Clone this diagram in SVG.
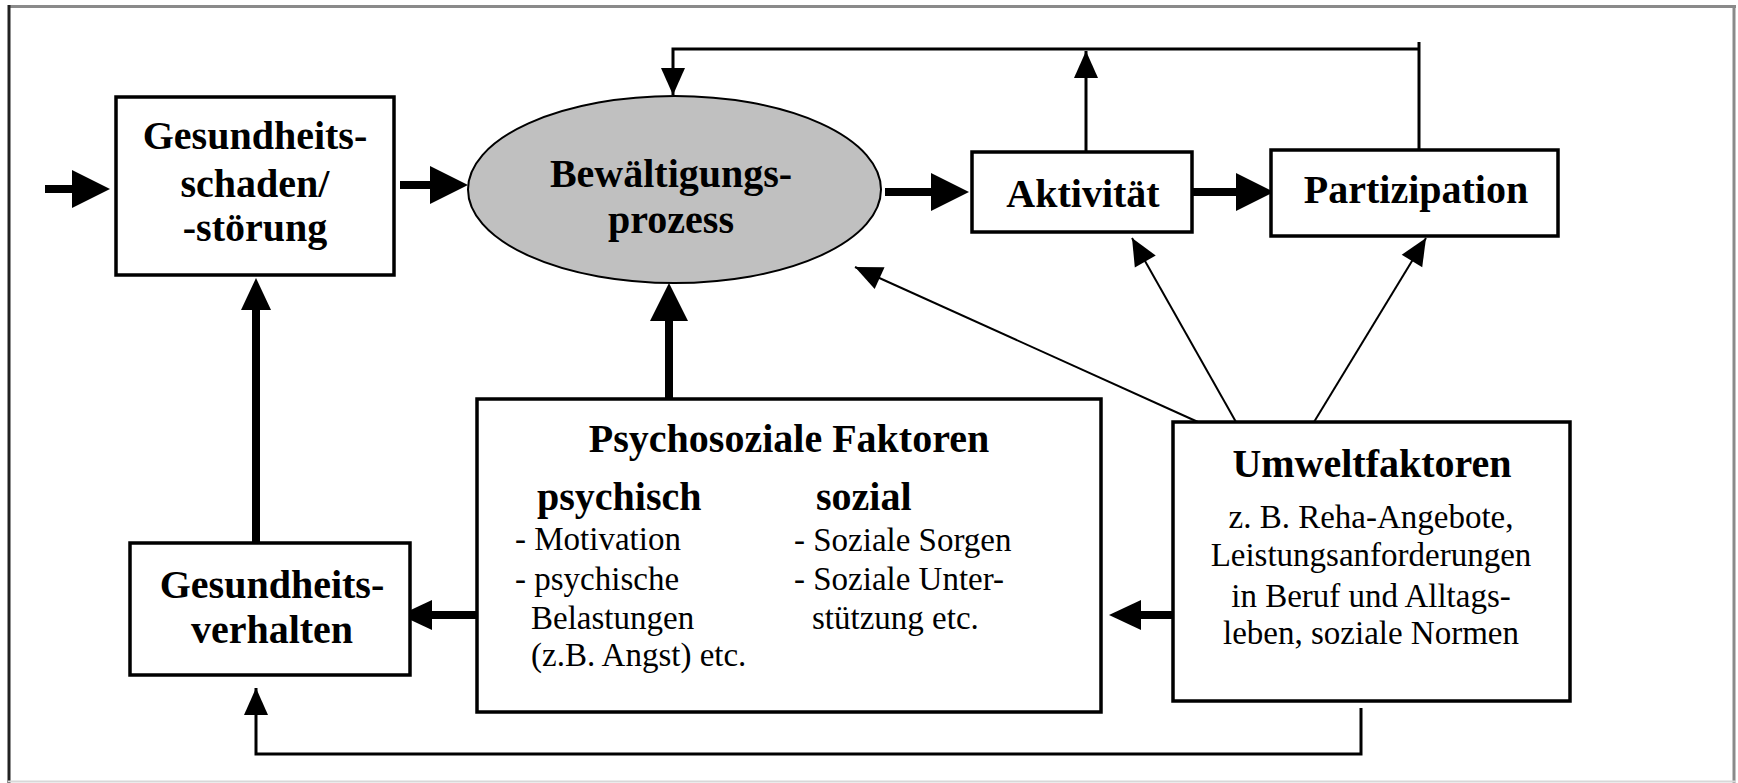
<svg xmlns="http://www.w3.org/2000/svg" width="1738" height="783" viewBox="0 0 1738 783">
<style>
.box{fill:#fff;stroke:#000;stroke-width:3.5}
.ell{fill:#c0c0c0;stroke:#000;stroke-width:2}
.thick{fill:none;stroke:#000;stroke-width:8}
.thin{fill:none;stroke:#000;stroke-width:3}
.diag{fill:none;stroke:#000;stroke-width:2}
.b{font-family:"Liberation Serif","Times New Roman",serif;font-weight:bold;font-size:40px;fill:#000}
.r{font-family:"Liberation Serif","Times New Roman",serif;font-size:33px;fill:#000}
.m{text-anchor:middle}
</style>
<defs>
<marker id="big" markerUnits="userSpaceOnUse" markerWidth="38" markerHeight="38" refX="0" refY="19" orient="auto" overflow="visible">
<path d="M0,0 L38,19 L0,38 z" fill="#000"/>
</marker>
<marker id="med" markerUnits="userSpaceOnUse" markerWidth="32" markerHeight="30" refX="0" refY="15" orient="auto" overflow="visible">
<path d="M0,0 L32,15 L0,30 z" fill="#000"/>
</marker>
<marker id="tip" markerUnits="userSpaceOnUse" markerWidth="27" markerHeight="24" refX="27" refY="12" orient="auto" overflow="visible">
<path d="M0,0 L27,12 L0,24 z" fill="#000"/>
</marker>
</defs>
<rect width="1738" height="783" fill="#fff"/>
<g id="frame">
<line x1="8" y1="6.5" x2="1736" y2="6.5" stroke="#8a8a8a" stroke-width="3"/>
<line x1="9" y1="5" x2="9" y2="783" stroke="#222" stroke-width="3"/>
<line x1="1734" y1="5" x2="1734" y2="783" stroke="#8a8a8a" stroke-width="3"/>
<line x1="8" y1="781.5" x2="1736" y2="781.5" stroke="#d8d8d8" stroke-width="2"/>
</g>
<g id="connectors">
<line class="thick" x1="45" y1="189" x2="72" y2="189" marker-end="url(#big)"/>
<line class="thick" x1="400" y1="185" x2="430" y2="185" marker-end="url(#big)"/>
<line class="thick" x1="885" y1="192" x2="931" y2="192" marker-end="url(#big)"/>
<line class="thick" x1="1192" y1="192" x2="1236" y2="192" marker-end="url(#big)"/>
<line class="thick" x1="669" y1="398" x2="669" y2="321" marker-end="url(#big)"/>
<line class="thick" x1="256" y1="543" x2="256" y2="310" marker-end="url(#med)"/>
<line class="thick" x1="477" y1="615" x2="432" y2="615" marker-end="url(#med)"/>
<line class="thick" x1="1177" y1="615" x2="1141" y2="615" marker-end="url(#med)"/>
<path class="thin" d="M1419,150 V42"/>
<path class="thin" d="M1419,49 H673 V95" marker-end="url(#tip)"/>
<path class="thin" d="M1086,152 V51" marker-end="url(#tip)"/>
<path class="thin" d="M1361,708 V754 H256 V688" marker-end="url(#tip)"/>
<line class="diag" x1="1198" y1="422" x2="855" y2="267" marker-end="url(#tip)"/>
<line class="diag" x1="1236" y1="422" x2="1132" y2="238" marker-end="url(#tip)"/>
<line class="diag" x1="1314" y1="422" x2="1426" y2="238" marker-end="url(#tip)"/>
</g>
<g id="gesundheitsschaden">
<rect class="box" x="116" y="97" width="278" height="178"/>
<text class="b m" x="255" y="149">Gesundheits-</text>
<text class="b m" x="255" y="197">schaden/</text>
<text class="b m" x="255" y="241">-störung</text>
</g>
<g id="bewaeltigung">
<ellipse class="ell" cx="674.5" cy="189.5" rx="206.5" ry="93.5"/>
<text class="b m" x="671" y="187">Bewältigungs-</text>
<text class="b m" x="671" y="233">prozess</text>
</g>
<g id="aktivitaet">
<rect class="box" x="972" y="152" width="220" height="80"/>
<text class="b m" x="1083" y="207">Aktivität</text>
</g>
<g id="partizipation">
<rect class="box" x="1271" y="150" width="287" height="86"/>
<text class="b m" x="1416" y="203">Partizipation</text>
</g>
<g id="psychosozial">
<rect class="box" x="477" y="399" width="624" height="313"/>
<text class="b m" x="789" y="452">Psychosoziale Faktoren</text>
<text class="b" x="537" y="510">psychisch</text>
<text class="b" x="816" y="510">sozial</text>
<text class="r" x="515" y="550">- Motivation</text>
<text class="r" x="515" y="590">- psychische</text>
<text class="r" x="531" y="629">Belastungen</text>
<text class="r" x="531" y="666">(z.B. Angst) etc.</text>
<text class="r" x="794" y="551">- Soziale Sorgen</text>
<text class="r" x="794" y="590">- Soziale Unter-</text>
<text class="r" x="812" y="629">stützung etc.</text>
</g>
<g id="gesundheitsverhalten">
<rect class="box" x="130" y="543" width="280" height="132"/>
<text class="b m" x="272" y="598">Gesundheits-</text>
<text class="b m" x="272" y="643">verhalten</text>
</g>
<g id="umweltfaktoren">
<rect class="box" x="1173" y="422" width="397" height="279"/>
<text class="b m" x="1372" y="477">Umweltfaktoren</text>
<text class="r m" x="1371" y="528">z. B. Reha-Angebote,</text>
<text class="r m" x="1371" y="566">Leistungsanforderungen</text>
<text class="r m" x="1371" y="607">in Beruf und Alltags-</text>
<text class="r m" x="1371" y="644">leben, soziale Normen</text>
</g>
</svg>
